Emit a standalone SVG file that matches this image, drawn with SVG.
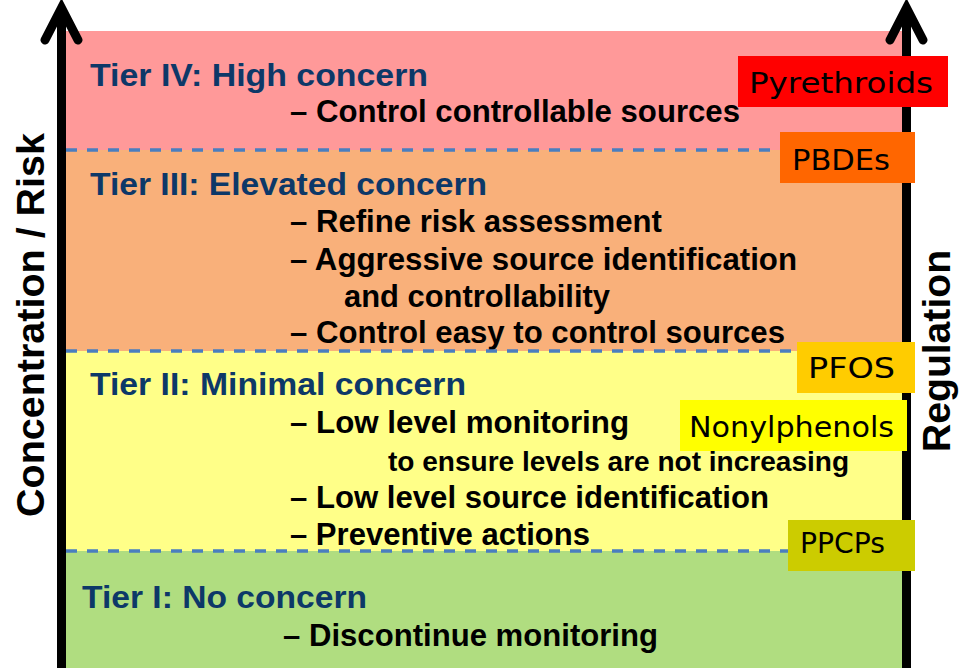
<svg xmlns="http://www.w3.org/2000/svg" width="965" height="668" viewBox="0 0 965 668">
<style>
.bg{stroke:none}
.sep{stroke:#4a7ebf;stroke-width:3.5;stroke-dasharray:11 10;fill:none}
.title{font-family:"Liberation Sans",Arial,sans-serif;font-weight:bold;font-size:32px;fill:#0d3868}
.item{font-family:"Liberation Sans",Arial,sans-serif;font-weight:bold;font-size:31px;fill:#000}
.small{font-family:"Liberation Sans",Arial,sans-serif;font-weight:bold;font-size:27px;fill:#000}
.axis{font-family:"Liberation Sans",Arial,sans-serif;font-weight:bold;font-size:39px;fill:#000;text-anchor:middle}
.tag{font-family:"DejaVu Sans",sans-serif;font-size:28px;fill:#000}
.ax{stroke:#000;stroke-width:9;fill:none;stroke-linecap:round;stroke-linejoin:miter}
</style>
<rect width="965" height="668" fill="#fff"/>
<g id="tier4">
<rect class="bg" x="66" y="31" width="836" height="119" fill="#ff9999"/>
<text class="title" x="90" y="86" textLength="338" lengthAdjust="spacingAndGlyphs">Tier IV: High concern</text>
<text class="item" x="290" y="122" textLength="450" lengthAdjust="spacingAndGlyphs">– Control controllable sources</text>
</g>
<g id="tier3">
<rect class="bg" x="66" y="150" width="836" height="201" fill="#f9b07a"/>
<text class="title" x="90" y="195" textLength="397" lengthAdjust="spacingAndGlyphs">Tier III: Elevated concern</text>
<text class="item" x="290" y="232" textLength="372" lengthAdjust="spacingAndGlyphs">– Refine risk assessment</text>
<text class="item" x="290" y="270" textLength="507" lengthAdjust="spacingAndGlyphs">– Aggressive source identification</text>
<text class="item" x="344" y="307" textLength="266" lengthAdjust="spacingAndGlyphs">and controllability</text>
<text class="item" x="290" y="343" textLength="495" lengthAdjust="spacingAndGlyphs">– Control easy to control sources</text>
</g>
<g id="tier2">
<rect class="bg" x="66" y="351" width="836" height="200" fill="#ffff88"/>
<text class="title" x="90" y="395" textLength="376" lengthAdjust="spacingAndGlyphs">Tier II: Minimal concern</text>
<text class="item" x="290" y="433" textLength="339" lengthAdjust="spacingAndGlyphs">– Low level monitoring</text>
<text class="small" x="388" y="471" textLength="461" lengthAdjust="spacingAndGlyphs">to ensure levels are not increasing</text>
<text class="item" x="290" y="508" textLength="479" lengthAdjust="spacingAndGlyphs">– Low level source identification</text>
<text class="item" x="290" y="545" textLength="300" lengthAdjust="spacingAndGlyphs">– Preventive actions</text>
</g>
<g id="tier1">
<rect class="bg" x="66" y="551" width="836" height="117" fill="#b0dd80"/>
<text class="title" x="82" y="608" textLength="285" lengthAdjust="spacingAndGlyphs">Tier I: No concern</text>
<text class="item" x="283" y="646" textLength="375" lengthAdjust="spacingAndGlyphs">– Discontinue monitoring</text>
</g>
<g id="separators">
<line class="sep" x1="66" y1="150" x2="902" y2="150"/>
<line class="sep" x1="66" y1="351" x2="902" y2="351"/>
<line class="sep" x1="66" y1="551" x2="902" y2="551"/>
</g>
<g id="connectors">
<line class="ax" x1="61.5" y1="12" x2="61.5" y2="680"/>
<polyline class="ax" points="45,40 61.5,8 78,40"/>
<line class="ax" x1="906.5" y1="12" x2="906.5" y2="680"/>
<polyline class="ax" points="890,40 906.5,8 923,40"/>
</g>
<g id="axis-left">
<text class="axis" transform="translate(44,325) rotate(-90)" textLength="384" lengthAdjust="spacingAndGlyphs">Concentration / Risk</text>
</g>
<g id="axis-right">
<text class="axis" transform="translate(950,351) rotate(-90)" textLength="202" lengthAdjust="spacingAndGlyphs">Regulation</text>
</g>
<g id="pyrethroids">
<rect x="738" y="56" width="210" height="51" fill="#ff0000"/>
<text class="tag" x="749" y="93" textLength="184" lengthAdjust="spacingAndGlyphs">Pyrethroids</text>
</g>
<g id="pbdes">
<rect x="780" y="132" width="135" height="51" fill="#ff6600"/>
<text class="tag" x="792" y="170" textLength="98" lengthAdjust="spacingAndGlyphs">PBDEs</text>
</g>
<g id="pfos">
<rect x="797" y="342" width="118" height="51" fill="#ffcc00"/>
<text class="tag" x="808" y="378" textLength="87" lengthAdjust="spacingAndGlyphs">PFOS</text>
</g>
<g id="nonylphenols">
<rect x="680" y="400" width="227" height="51" fill="#ffff00"/>
<text class="tag" x="689" y="437" textLength="205" lengthAdjust="spacingAndGlyphs">Nonylphenols</text>
</g>
<g id="ppcps">
<rect x="788" y="520" width="127" height="51" fill="#cccc00"/>
<text class="tag" x="800" y="553" textLength="85" lengthAdjust="spacingAndGlyphs">PPCPs</text>
</g>
</svg>
